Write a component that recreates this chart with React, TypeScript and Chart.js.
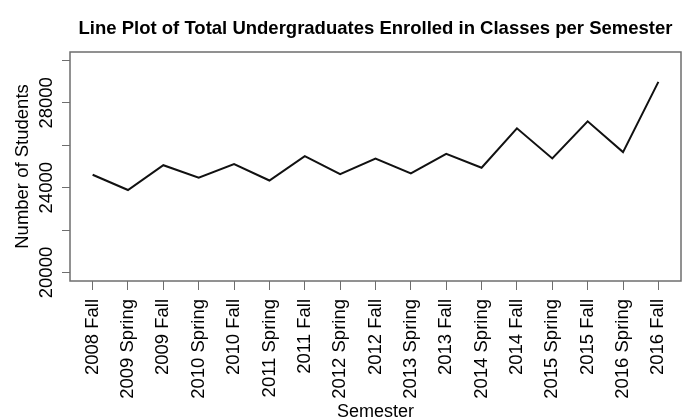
import React, { useEffect, useRef } from 'react';
import { Chart, registerables } from 'chart.js';

Chart.register(...registerables);

const semesters = [
  '2008 Fall', '2009 Spring', '2009 Fall', '2010 Spring', '2010 Fall', '2011 Spring',
  '2011 Fall', '2012 Spring', '2012 Fall', '2013 Spring', '2013 Fall', '2014 Spring',
  '2014 Fall', '2015 Spring', '2015 Fall', '2016 Spring', '2016 Fall',
];
const students = [
  24610, 23890, 25060, 24470, 25110, 24340, 25490, 24640, 25370,
  24670, 25600, 24940, 26800, 25380, 27130, 25680, 28990,
];
const yTickValues = [20000, 22000, 24000, 26000, 28000, 30000];
const yTickLabels = ['20000', '', '24000', '', '28000', ''];

const titleText = 'Line Plot of Total Undergraduates Enrolled in Classes per Semester';
const xTitleText = 'Semester';
const yTitleText = 'Number of Students';

const FONT = '"Liberation Sans", Arial, Helvetica, sans-serif';
const AXIS_COLOR = '#6e6e6e';

export default function App() {
  const ref = useRef<HTMLCanvasElement>(null);

  useEffect(() => {
    const canvas = ref.current;
    if (!canvas) return;

    const rbasePlugin = {
      id: 'rbase',
      afterDraw(chart: any) {
        const { ctx, chartArea: a, scales } = chart;
        ctx.save();
        // box
        ctx.strokeStyle = AXIS_COLOR;
        ctx.lineWidth = 1.5;
        ctx.strokeRect(a.left, a.top, a.right - a.left, a.bottom - a.top);
        ctx.fillStyle = '#000';
        // y tick labels (rotated)
        ctx.font = `18.5px ${FONT}`;
        ctx.textAlign = 'center';
        ctx.textBaseline = 'alphabetic';
        yTickValues.forEach((v, i) => {
          const lab = yTickLabels[i];
          if (!lab) return;
          const y = scales.y.getPixelForValue(v);
          ctx.save();
          ctx.translate(a.left - 18.5, y);
          ctx.rotate(-Math.PI / 2);
          ctx.fillText(lab, 0, 0);
          ctx.restore();
        });
        // y title
        ctx.save();
        ctx.translate(a.left - 42, (a.top + a.bottom) / 2);
        ctx.rotate(-Math.PI / 2);
        ctx.fillText(yTitleText, 0, 0);
        ctx.restore();
        // x title
        ctx.font = `18px ${FONT}`;
        ctx.fillText(xTitleText, (a.left + a.right) / 2, 416.5);
        // main title
        ctx.font = `bold 18.5px ${FONT}`;
        ctx.fillText(titleText, (a.left + a.right) / 2, 33.5);
        ctx.restore();
      },
    };

    const chart = new Chart(canvas, {
      type: 'line',
      data: {
        datasets: [
          {
            data: students.map((v, i) => ({ x: i + 1, y: v })),
            borderColor: '#111',
            borderWidth: 2,
            pointRadius: 0,
            tension: 0,
            fill: false,
          },
        ],
      },
      options: {
        animation: false,
        responsive: false,
        layout: { padding: { top: 52, right: 16, left: 0, bottom: 0 } },
        plugins: {
          legend: { display: false },
          tooltip: { enabled: false },
          title: { display: false },
        },
        scales: {
          x: {
            type: 'linear',
            min: 0.36,
            max: 17.64,
            afterBuildTicks: (s: any) => {
              s.ticks = semesters.map((_, i) => ({ value: i + 1 }));
            },
            afterFit: (s: any) => {
              s.height = 138;
            },
            ticks: {
              autoSkip: false,
              minRotation: 90,
              maxRotation: 90,
              padding: 9,
              color: '#000',
              font: { family: FONT, size: 18.5 },
              callback: (v: any) => semesters[Math.round(Number(v)) - 1] ?? '',
            },
            grid: {
              drawOnChartArea: false,
              drawTicks: true,
              tickLength: 9,
              color: AXIS_COLOR,
              lineWidth: 1,
            },
            border: { display: false },
          },
          y: {
            type: 'linear',
            min: 19600,
            max: 30400,
            afterBuildTicks: (s: any) => {
              s.ticks = yTickValues.map((v) => ({ value: v }));
            },
            afterFit: (s: any) => {
              s.width = 70;
            },
            ticks: {
              callback: () => '',
              padding: 0,
            },
            grid: {
              drawOnChartArea: false,
              drawTicks: true,
              tickLength: 8,
              color: AXIS_COLOR,
              lineWidth: 1,
            },
            border: { display: false },
          },
        },
      },
      plugins: [rbasePlugin],
    } as any);

    return () => {
      chart.destroy();
    };
  }, []);

  return (
    <div style={{ position: 'absolute', left: 0, top: 0, width: 697, height: 419, background: '#fff' }}>
      <canvas ref={ref} width={697} height={419} style={{ display: 'block' }} />
    </div>
  );
}
